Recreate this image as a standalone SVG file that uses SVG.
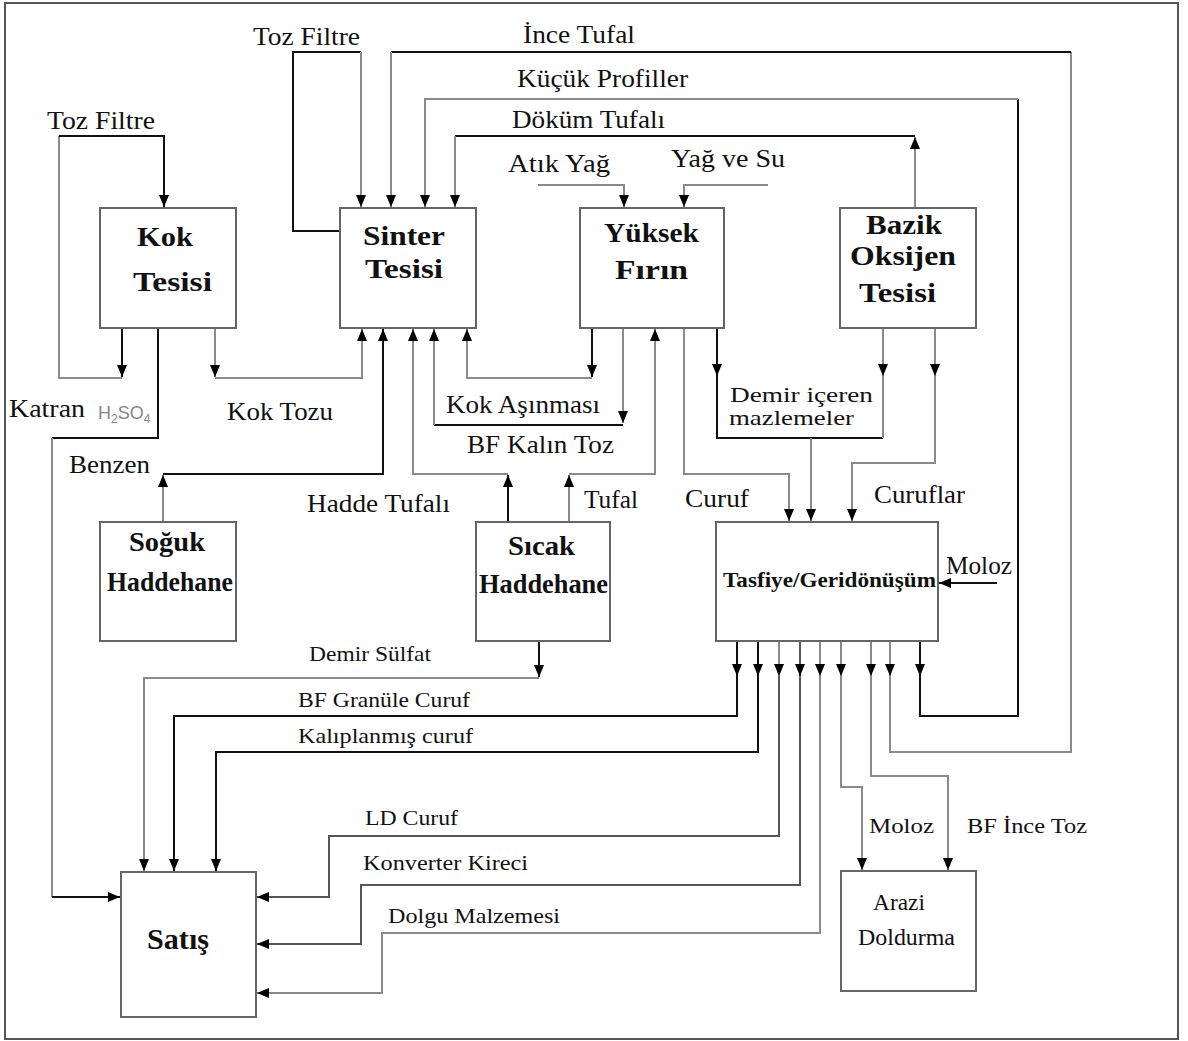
<svg xmlns="http://www.w3.org/2000/svg" width="1188" height="1041" viewBox="0 0 1188 1041">
<style>
.frame{fill:#fff;stroke:#555;stroke-width:2}
.box{fill:#fff;stroke:#666;stroke-width:2}
.k{fill:none;stroke:#111;stroke-width:2}
.g{fill:none;stroke:#8a8a8a;stroke-width:2}
.d{fill:none;stroke:#555;stroke-width:2}
.lbl{font-family:"Liberation Serif","Times New Roman",serif;font-size:26px;fill:#111}
.sm{font-family:"Liberation Serif","Times New Roman",serif;font-size:21px;fill:#111}
.nb{font-family:"Liberation Serif","Times New Roman",serif;font-size:28px;font-weight:bold;fill:#111}
.chem{font-family:"Liberation Sans",Arial,sans-serif;font-size:18px;fill:#888}
</style>
<defs>
<marker id="ah" viewBox="0 0 12 10" refX="12" refY="5" markerWidth="12" markerHeight="10" markerUnits="userSpaceOnUse" orient="auto">
<path d="M0,0 L12,5 L0,10 z" fill="#000"/>
</marker>
</defs>
<rect class="frame" x="5" y="3" width="1173" height="1036"/>

<g id="connectors">
<path class="k" d="M122,328 V377" marker-end="url(#ah)"/>
<path class="g" d="M122,378 H59 V136"/>
<path class="k" d="M59,136 H164 V207" marker-end="url(#ah)"/>
<path class="k" d="M158,328 V438 H52"/>
<path class="g" d="M52,438 V897"/>
<path class="k" d="M52,897 H120" marker-end="url(#ah)"/>
<path class="g" d="M215,328 V377" marker-end="url(#ah)"/>
<path class="g" d="M215,378 H362 V329" marker-end="url(#ah)"/>
<path class="k" d="M341,231 H293 V52 H361"/>
<path class="g" d="M361,52 V207" marker-end="url(#ah)"/>
<path class="g" d="M890,641 V676" marker-end="url(#ah)"/>
<path class="g" d="M890,676 V752 H1071 V52"/>
<path class="k" d="M1071,52 H391"/>
<path class="g" d="M391,52 V207" marker-end="url(#ah)"/>
<path class="k" d="M920,641 V676" marker-end="url(#ah)"/>
<path class="k" d="M920,676 V716 H1018 V99"/>
<path class="g" d="M1018,99 H425 V207" marker-end="url(#ah)"/>
<path class="g" d="M915,208 V137" marker-end="url(#ah)"/>
<path class="k" d="M915,136 H455"/>
<path class="g" d="M455,136 V207" marker-end="url(#ah)"/>
<path class="g" d="M538,185 H624 V207" marker-end="url(#ah)"/>
<path class="g" d="M768,185 H684 V207" marker-end="url(#ah)"/>
<path class="g" d="M163,522 V475" marker-end="url(#ah)"/>
<path class="k" d="M163,474 H383 V329" marker-end="url(#ah)"/>
<path class="k" d="M508,522 V475" marker-end="url(#ah)"/>
<path class="g" d="M508,474 H413 V329" marker-end="url(#ah)"/>
<path class="g" d="M569,522 V475" marker-end="url(#ah)"/>
<path class="g" d="M569,474 H655 V329" marker-end="url(#ah)"/>
<path class="k" d="M592,328 V377" marker-end="url(#ah)"/>
<path class="g" d="M592,378 H467 V329" marker-end="url(#ah)"/>
<path class="g" d="M623,328 V423" marker-end="url(#ah)"/>
<path class="k" d="M623,425 H434"/>
<path class="g" d="M434,425 V329" marker-end="url(#ah)"/>
<path class="g" d="M684,328 V474 H789 V521" marker-end="url(#ah)"/>
<path class="k" d="M717,328 V376" marker-end="url(#ah)"/>
<path class="k" d="M717,376 V438 H883"/>
<path class="g" d="M883,328 V376" marker-end="url(#ah)"/>
<path class="g" d="M883,376 V438"/>
<path class="g" d="M811,438 V521" marker-end="url(#ah)"/>
<path class="g" d="M935,328 V376" marker-end="url(#ah)"/>
<path class="g" d="M935,376 V463 H852 V521" marker-end="url(#ah)"/>
<path class="k" d="M997,583 H939" marker-end="url(#ah)"/>
<path class="k" d="M539,641 V677" marker-end="url(#ah)"/>
<path class="g" d="M539,678 H144 V871" marker-end="url(#ah)"/>
<path class="k" d="M737,641 V676" marker-end="url(#ah)"/>
<path class="k" d="M737,676 V716 H174 V871" marker-end="url(#ah)"/>
<path class="k" d="M758,641 V676" marker-end="url(#ah)"/>
<path class="k" d="M758,676 V752 H216 V871" marker-end="url(#ah)"/>
<path class="g" d="M779,641 V676" marker-end="url(#ah)"/>
<path class="d" d="M779,676 V836 H329 V897 H257" marker-end="url(#ah)"/>
<path class="d" d="M800,641 V676" marker-end="url(#ah)"/>
<path class="d" d="M800,676 V885 H361 V944 H257" marker-end="url(#ah)"/>
<path class="g" d="M820,641 V676" marker-end="url(#ah)"/>
<path class="g" d="M820,676 V933 H382 V993 H257" marker-end="url(#ah)"/>
<path class="g" d="M841,641 V676" marker-end="url(#ah)"/>
<path class="g" d="M841,676 V787 H862 V870" marker-end="url(#ah)"/>
<path class="g" d="M871,641 V676" marker-end="url(#ah)"/>
<path class="g" d="M871,676 V776 H948 V870" marker-end="url(#ah)"/>
</g>

<g id="labels">
<text class="lbl" x="47" y="129" textLength="108" lengthAdjust="spacingAndGlyphs">Toz Filtre</text>
<text class="lbl" x="253" y="45" textLength="107" lengthAdjust="spacingAndGlyphs">Toz Filtre</text>
<text class="lbl" x="523" y="43" textLength="112" lengthAdjust="spacingAndGlyphs">İnce Tufal</text>
<text class="lbl" x="517" y="87" textLength="171" lengthAdjust="spacingAndGlyphs">Küçük Profiller</text>
<text class="lbl" x="512" y="128" textLength="153" lengthAdjust="spacingAndGlyphs">Döküm Tufalı</text>
<text class="lbl" x="508" y="172" textLength="102" lengthAdjust="spacingAndGlyphs">Atık Yağ</text>
<text class="lbl" x="671" y="167" textLength="114" lengthAdjust="spacingAndGlyphs">Yağ ve Su</text>
<text class="lbl" x="9" y="417" textLength="76" lengthAdjust="spacingAndGlyphs">Katran</text>
<text class="chem" x="98" y="419">H<tspan font-size="12" dy="4">2</tspan><tspan dy="-4">SO</tspan><tspan font-size="12" dy="4">4</tspan></text>
<text class="lbl" x="227" y="420" textLength="106" lengthAdjust="spacingAndGlyphs">Kok Tozu</text>
<text class="lbl" x="69" y="473" textLength="81" lengthAdjust="spacingAndGlyphs">Benzen</text>
<text class="lbl" x="307" y="512" textLength="143" lengthAdjust="spacingAndGlyphs">Hadde Tufalı</text>
<text class="lbl" x="446" y="413" textLength="154" lengthAdjust="spacingAndGlyphs">Kok Aşınması</text>
<text class="lbl" x="467" y="453" textLength="147" lengthAdjust="spacingAndGlyphs">BF Kalın Toz</text>
<text class="lbl" x="584" y="508" textLength="54" lengthAdjust="spacingAndGlyphs">Tufal</text>
<text class="lbl" x="685" y="507" textLength="64" lengthAdjust="spacingAndGlyphs">Curuf</text>
<text class="lbl" x="730" y="402" style="font-size:22px" textLength="143" lengthAdjust="spacingAndGlyphs">Demir içeren</text>
<text class="lbl" x="729" y="425" style="font-size:22px" textLength="125" lengthAdjust="spacingAndGlyphs">mazlemeler</text>
<text class="lbl" x="874" y="503" textLength="91" lengthAdjust="spacingAndGlyphs">Curuflar</text>
<text class="lbl" x="946" y="574" textLength="66" lengthAdjust="spacingAndGlyphs">Moloz</text>
<text class="sm" x="309" y="661" textLength="122" lengthAdjust="spacingAndGlyphs">Demir Sülfat</text>
<text class="sm" x="298" y="707" textLength="172" lengthAdjust="spacingAndGlyphs">BF Granüle Curuf</text>
<text class="sm" x="298" y="743" textLength="175" lengthAdjust="spacingAndGlyphs">Kalıplanmış curuf</text>
<text class="sm" x="365" y="825" textLength="93" lengthAdjust="spacingAndGlyphs">LD Curuf</text>
<text class="sm" x="363" y="870" textLength="165" lengthAdjust="spacingAndGlyphs">Konverter Kireci</text>
<text class="sm" x="388" y="923" textLength="172" lengthAdjust="spacingAndGlyphs">Dolgu Malzemesi</text>
<text class="sm" x="869" y="833" textLength="65" lengthAdjust="spacingAndGlyphs">Moloz</text>
<text class="sm" x="967" y="833" textLength="120" lengthAdjust="spacingAndGlyphs">BF İnce Toz</text>
</g>

<g id="kok-tesisi">
<rect class="box" x="100" y="208" width="136" height="120"/>
<text class="nb" x="137" y="246" textLength="56" lengthAdjust="spacingAndGlyphs">Kok</text>
<text class="nb" x="133" y="291" textLength="79" lengthAdjust="spacingAndGlyphs">Tesisi</text>
</g>
<g id="sinter-tesisi">
<rect class="box" x="340" y="208" width="136" height="120"/>
<text class="nb" x="363" y="245" textLength="82" lengthAdjust="spacingAndGlyphs">Sinter</text>
<text class="nb" x="365" y="278" textLength="78" lengthAdjust="spacingAndGlyphs">Tesisi</text>
</g>
<g id="yuksek-firin">
<rect class="box" x="580" y="208" width="144" height="120"/>
<text class="nb" x="604" y="242" textLength="95" lengthAdjust="spacingAndGlyphs">Yüksek</text>
<text class="nb" x="615" y="279" textLength="73" lengthAdjust="spacingAndGlyphs">Fırın</text>
</g>
<g id="bazik-oksijen-tesisi">
<rect class="box" x="840" y="208" width="136" height="120"/>
<text class="nb" x="866" y="234" textLength="76" lengthAdjust="spacingAndGlyphs">Bazik</text>
<text class="nb" x="850" y="265" textLength="106" lengthAdjust="spacingAndGlyphs">Oksijen</text>
<text class="nb" x="859" y="302" textLength="77" lengthAdjust="spacingAndGlyphs">Tesisi</text>
</g>
<g id="soguk-haddehane">
<rect class="box" x="100" y="522" width="136" height="119"/>
<text class="nb" x="129" y="551" textLength="76" lengthAdjust="spacingAndGlyphs">Soğuk</text>
<text class="nb" x="107" y="591" textLength="126" lengthAdjust="spacingAndGlyphs">Haddehane</text>
</g>
<g id="sicak-haddehane">
<rect class="box" x="476" y="522" width="134" height="119"/>
<text class="nb" x="508" y="555" textLength="67" lengthAdjust="spacingAndGlyphs">Sıcak</text>
<text class="nb" x="479" y="593" textLength="129" lengthAdjust="spacingAndGlyphs">Haddehane</text>
</g>
<g id="tasfiye-geridonusum">
<rect class="box" x="716" y="522" width="222" height="119"/>
<text class="nb" x="723" y="587" style="font-size:20px" textLength="213" lengthAdjust="spacingAndGlyphs">Tasfiye/Geridönüşüm</text>
</g>
<g id="satis">
<rect class="box" x="121" y="872" width="135" height="145"/>
<text class="nb" x="147" y="949" style="font-size:30px" textLength="62" lengthAdjust="spacingAndGlyphs">Satış</text>
</g>
<g id="arazi-doldurma">
<rect class="box" x="841" y="871" width="135" height="120"/>
<text class="sm" x="873" y="910" style="font-size:23px" textLength="52" lengthAdjust="spacingAndGlyphs">Arazi</text>
<text class="sm" x="858" y="945" style="font-size:23px" textLength="97" lengthAdjust="spacingAndGlyphs">Doldurma</text>
</g>
</svg>
